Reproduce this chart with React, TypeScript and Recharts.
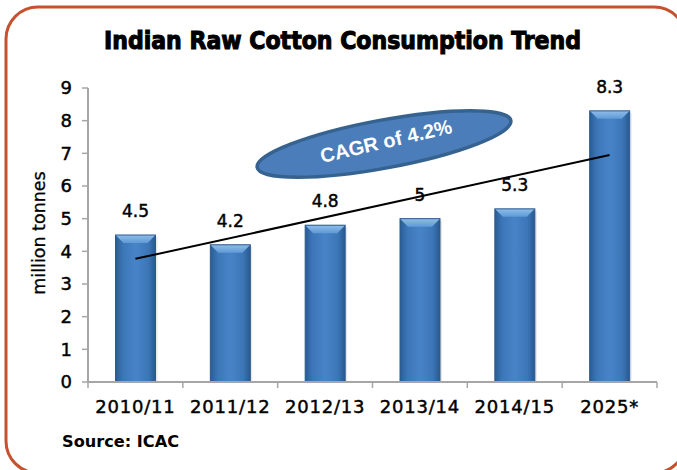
import React from 'react';
import { ComposedChart, Bar, Line, XAxis, YAxis, LabelList } from 'recharts';

const seasons = ['2010/11', '2011/12', '2012/13', '2013/14', '2014/15', '2025*'];
const consumption = [4.5, 4.2, 4.8, 5, 5.3, 8.3];
// CAGR trend line, drawn from first to last season
const trend = [3.77, null, null, null, null, 6.95];
const yTicks = [0, 1, 2, 3, 4, 5, 6, 7, 8, 9];

const data = seasons.map((s, i) => ({ season: s, value: consumption[i], trend: trend[i] }));

const font = "'DejaVu Sans', Verdana, sans-serif";
const condensed = "'DejaVu Sans Condensed', 'DejaVu Sans', sans-serif";
const axisGray = '#a6a6a6';

const BarShape = (props: any) => {
  const { x, y, width, height } = props;
  if (!height || height <= 0) return null;
  const b = 8;
  return (
    <g>
      <rect x={x + 2} y={y + 2} width={width} height={height - 2} fill="#d9d9d9" opacity={0.6} />
      <rect x={x} y={y} width={width} height={height} fill="url(#barGrad)" />
      <polygon
        points={`${x},${y} ${x + width},${y} ${x + width - b},${y + b} ${x + b},${y + b}`}
        fill="url(#topGrad)"
      />
      <rect x={x} y={y} width={width} height={height} fill="none" stroke="#2c5a8e" strokeWidth={1} />
    </g>
  );
};

const XTick = (props: any) => {
  const { x, y, payload, index } = props;
  const half = payload && payload.offset ? payload.offset : 47.4;
  return (
    <g>
      <line x1={x - half} y1={y} x2={x - half} y2={y + 6} stroke={axisGray} strokeWidth={1.5} />
      {index === seasons.length - 1 && (
        <line x1={x + half} y1={y} x2={x + half} y2={y + 6} stroke={axisGray} strokeWidth={1.5} />
      )}
      <text
        x={x}
        y={y + 31}
        textAnchor="middle"
        fontFamily={font}
        fontSize={18}
        letterSpacing={0.8}
        fill="#000"
        stroke="#000"
        strokeWidth={0.45}
      >
        {payload.value}
      </text>
    </g>
  );
};

export default function App() {
  return (
    <div style={{ position: 'absolute', left: 0, top: 0, width: 677, height: 470, background: '#fff' }}>
      <ComposedChart
        width={677}
        height={470}
        data={data}
        margin={{ top: 88, right: 20, bottom: 48, left: 0 }}
        barCategoryGap="29%"
      >
        <defs>
          <linearGradient id="barGrad" x1="0" y1="0" x2="1" y2="0">
            <stop offset="0%" stopColor="#2a5c95" />
            <stop offset="18%" stopColor="#3c76b7" />
            <stop offset="50%" stopColor="#4784c7" />
            <stop offset="82%" stopColor="#3c76b7" />
            <stop offset="100%" stopColor="#28588f" />
          </linearGradient>
          <linearGradient id="topGrad" x1="0" y1="0" x2="0" y2="1">
            <stop offset="0%" stopColor="#8fbde9" />
            <stop offset="100%" stopColor="#5f9ad6" />
          </linearGradient>
        </defs>
        <XAxis
          dataKey="season"
          height={40}
          tickLine={false}
          tickSize={0}
          tickMargin={0}
          axisLine={{ stroke: axisGray, strokeWidth: 2 }}
          tick={<XTick />}
          interval={0}
        />
        <YAxis
          width={88}
          domain={[0, 9]}
          ticks={yTicks}
          interval={0}
          tickSize={6}
          tickMargin={10}
          axisLine={{ stroke: axisGray, strokeWidth: 2 }}
          tickLine={{ stroke: axisGray, strokeWidth: 1.5 }}
          tick={{ fontFamily: font, fontSize: 18, fill: '#000', stroke: '#000', strokeWidth: 0.45 }}
        />
        <Bar dataKey="value" shape={<BarShape />} isAnimationActive={false}>
          <LabelList
            dataKey="value"
            position="top"
            offset={18}
            style={{ fontFamily: font, fontSize: 17, fill: '#000', stroke: '#000', strokeWidth: 0.45 }}
          />
        </Bar>
        <Line
          dataKey="trend"
          connectNulls
          stroke="#000"
          strokeWidth={2}
          dot={false}
          activeDot={false}
          isAnimationActive={false}
        />
      </ComposedChart>
      <svg
        width={677}
        height={470}
        style={{ position: 'absolute', left: 0, top: 0, pointerEvents: 'none' }}
      >
        <rect x={6} y={7} width={680} height={466} rx={32} ry={32} fill="none" stroke="#c4522e" strokeWidth={3} />
        <text
          x={104}
          y={49}
          textLength={477}
          lengthAdjust="spacingAndGlyphs"
          fontFamily={condensed}
          fontStretch="condensed"
          fontWeight="bold"
          fontSize={24}
          fill="#000"
          stroke="#000"
          strokeWidth={1}
        >
          Indian Raw Cotton Consumption Trend
        </text>
        <text
          x={39}
          y={233}
          transform="rotate(-90 39 233)"
          textAnchor="middle"
          dominantBaseline="central"
          fontFamily={font}
          fontSize={17.5}
          fill="#000"
          stroke="#000"
          strokeWidth={0.3}
        >
          million tonnes
        </text>
        <text
          x={62}
          y={447}
          textLength={117}
          lengthAdjust="spacingAndGlyphs"
          fontFamily={condensed}
          fontStretch="condensed"
          fontWeight="bold"
          fontSize={15}
          fill="#000"
        >
          Source: ICAC
        </text>
        <g transform="translate(384 144) rotate(-10.5)">
          <ellipse cx={0} cy={0} rx={129} ry={24} fill="#4a7dba" stroke="#36628f" strokeWidth={3.5} />
        </g>
        <text
          x={386}
          y={141}
          transform="rotate(-13 386 141)"
          textAnchor="middle"
          dominantBaseline="central"
          fontFamily="'Liberation Sans', Arial, sans-serif"
          fontWeight="bold"
          fontSize={20}
          fill="#fff"
        >
          CAGR of 4.2%
        </text>
      </svg>
    </div>
  );
}
